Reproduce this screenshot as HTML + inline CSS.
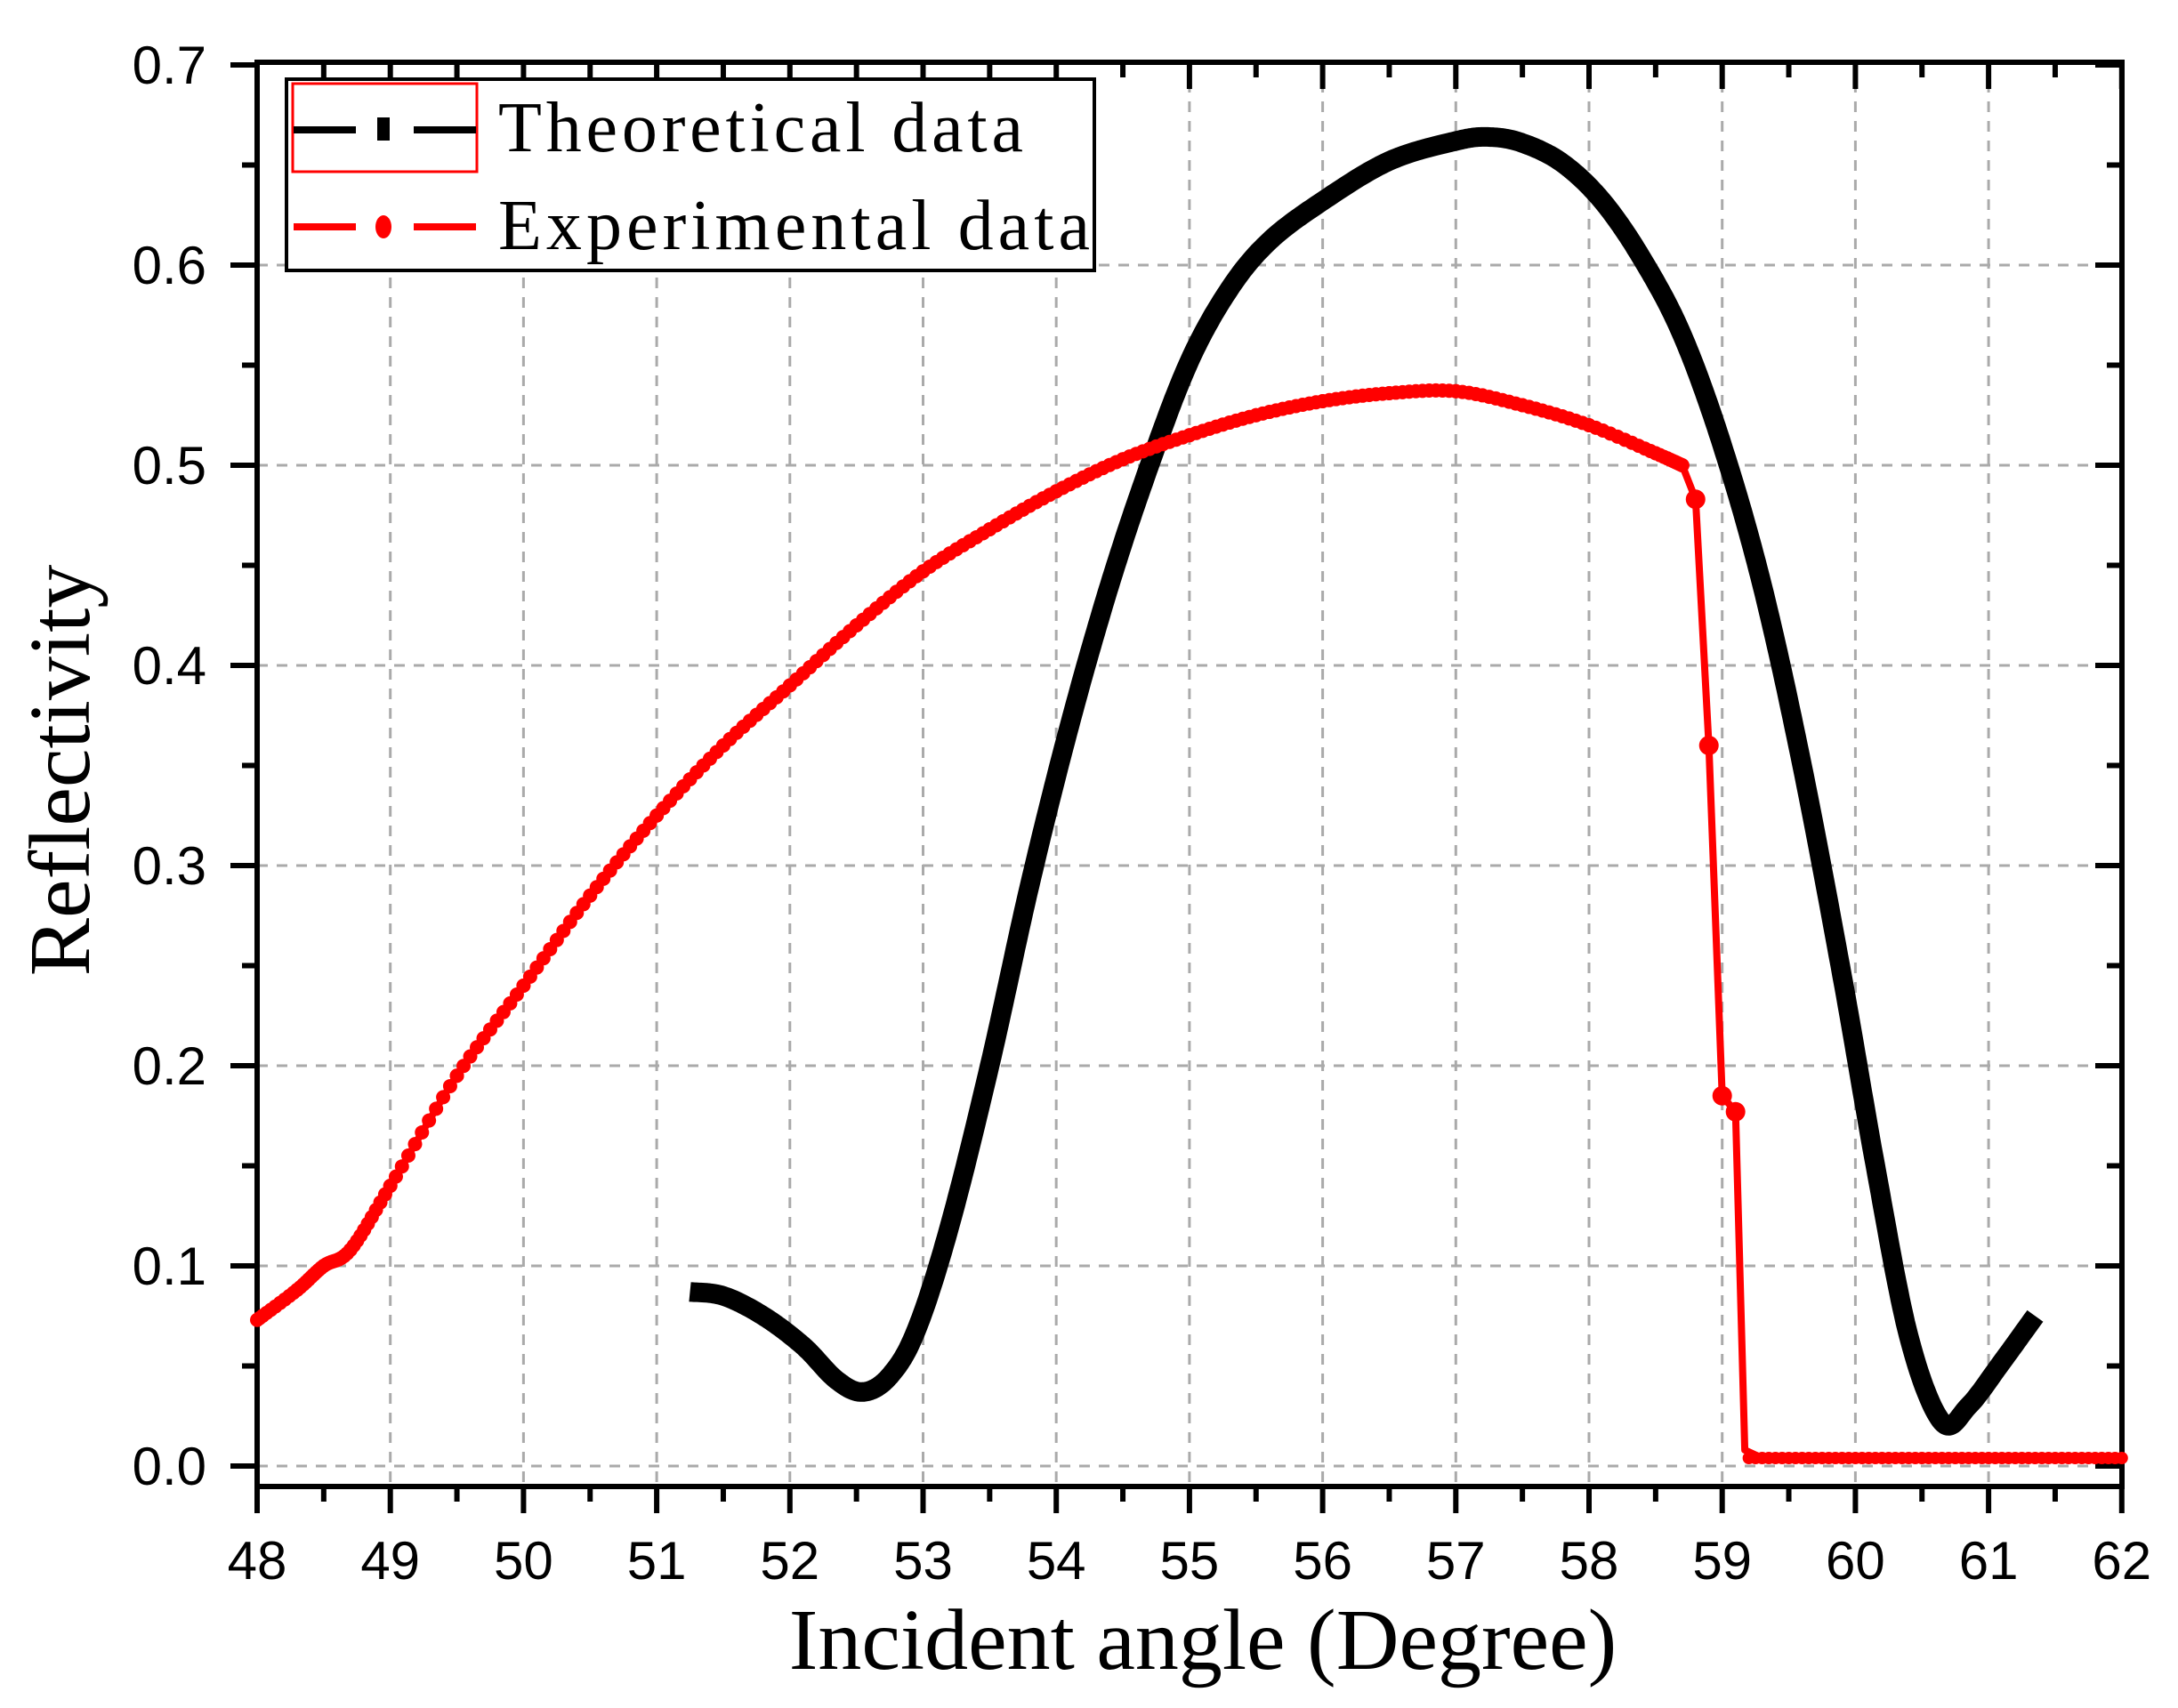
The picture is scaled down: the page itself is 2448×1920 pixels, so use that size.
<!DOCTYPE html>
<html><head><style>html,body{margin:0;padding:0;background:#fff}svg{display:block}</style></head>
<body>
<svg id="s" xmlns="http://www.w3.org/2000/svg" width="2448" height="1920" viewBox="0 0 2448 1920">
<rect width="2448" height="1920" fill="#fff"/>
<g id="grid" stroke="#aaa" stroke-width="3" stroke-dasharray="12,10" fill="none"></g>
<g id="ticks" stroke="#000" stroke-width="6" fill="none"></g>
<rect x="289" y="70" width="2096" height="1601" fill="none" stroke="#000" stroke-width="6"/>
<g id="labels" font-family="Liberation Sans, sans-serif" font-size="60" fill="#000"></g>
<path id="theo" fill="none" stroke="#000" stroke-width="22" stroke-linejoin="round"/>
<path id="exp" fill="none" stroke="#f00" stroke-width="8" stroke-linejoin="round"/>
<g id="dots" fill="#f00"></g>
<text x="1352" y="1876" font-family="Liberation Serif, serif" font-size="98" text-anchor="middle">Incident angle (Degree)</text>
<text transform="translate(100,866) rotate(-90)" font-family="Liberation Serif, serif" font-size="98" text-anchor="middle">Reflectivity</text>
<rect x="322" y="89" width="908" height="215" fill="#fff" stroke="#000" stroke-width="4"/>
<rect x="329" y="94" width="207" height="99" fill="none" stroke="#f00" stroke-width="3"/>
<line x1="330" y1="146" x2="400" y2="146" stroke="#000" stroke-width="8"/>
<rect x="424" y="132" width="14" height="26" fill="#000"/>
<line x1="465" y1="146" x2="535" y2="146" stroke="#000" stroke-width="8"/>
<line x1="330" y1="255" x2="400" y2="255" stroke="#f00" stroke-width="8"/>
<ellipse cx="431" cy="255" rx="9" ry="13" fill="#f00"/>
<line x1="465" y1="255" x2="535" y2="255" stroke="#f00" stroke-width="8"/>
<text x="560" y="170" font-family="Liberation Serif, serif" font-size="80" textLength="590">Theoretical data</text>
<text x="560" y="280" font-family="Liberation Serif, serif" font-size="80" textLength="665">Experimental data</text>
</svg>
<script>
const X=a=>289+(a-48)*149.7, Y=v=>1648-v*2250;
const ns="http://www.w3.org/2000/svg";
function el(p,t,a,txt){const e=document.createElementNS(ns,t);for(const k in a)e.setAttribute(k,a[k]);if(txt!=null)e.textContent=txt;document.getElementById(p).appendChild(e);}
for(let a=49;a<62;a++)el("grid","line",{x1:X(a),y1:70,x2:X(a),y2:1671});
for(let i=0;i<=6;i++)el("grid","line",{x1:289,y1:Y(i/10),x2:2385,y2:Y(i/10)});
for(let a=48;a<=62;a+=0.5){const maj=a%1==0;
 el("ticks","line",{x1:X(a),y1:1671,x2:X(a),y2:1671+(maj?30:17)});
 el("ticks","line",{x1:X(a),y1:70,x2:X(a),y2:70+(maj?30:17)});
 if(maj)el("labels","text",{x:X(a),y:1775,"text-anchor":"middle"},String(a));}
for(let v=0;v<=0.701;v+=0.05){const maj=Math.round(v*20)%2==0;const y=Y(v);
 el("ticks","line",{x1:289,y1:y,x2:289-(maj?30:17),y2:y});
 el("ticks","line",{x1:2385,y1:y,x2:2385-(maj?30:17),y2:y});
 if(maj)el("labels","text",{x:232,y:y+21,"text-anchor":"end"},v.toFixed(1));}
function spline(pts,step){const out=[];for(let i=0;i<pts.length-1;i++){const p0=pts[Math.max(0,i-1)],p1=pts[i],p2=pts[i+1],p3=pts[Math.min(pts.length-1,i+2)];
 for(let t=0;t<1;t+=step){const t2=t*t,t3=t2*t;const f=(a,b,c,d)=>0.5*(2*b+(-a+c)*t+(2*a-5*b+4*c-d)*t2+(-a+3*b-3*c+d)*t3);
 out.push([f(p0[0],p1[0],p2[0],p3[0]),f(p0[1],p1[1],p2[1],p3[1])]);}}out.push(pts[pts.length-1]);return out;}
const th=[[51.25,0.087],[51.5,0.085],[51.8,0.075],[52.1,0.06],[52.35,0.043],[52.55,0.037],[52.75,0.045],[52.95,0.068],[53.2,0.12],[53.5,0.2],[53.8,0.29],[54.1,0.37],[54.4,0.44],[54.7,0.5],[55,0.552],[55.3,0.588],[55.6,0.612],[56,0.632],[56.5,0.652],[57,0.662],[57.25,0.664],[57.5,0.661],[57.8,0.651],[58.1,0.632],[58.4,0.603],[58.7,0.565],[59,0.51],[59.3,0.44],[59.6,0.35],[59.9,0.245],[60.15,0.15],[60.4,0.065],[60.65,0.022],[60.85,0.03],[61.1,0.052],[61.35,0.075]];
document.getElementById("theo").setAttribute("d","M"+spline(th,0.05).map(p=>X(p[0]).toFixed(1)+","+Y(p[1]).toFixed(1)).join("L"));
const ex1=[[48,0.073],[48.3,0.088],[48.5,0.1],[48.7,0.108],[49,0.14],[49.5,0.195],[50,0.24],[50.5,0.285],[51,0.325],[51.5,0.36],[52,0.39],[52.5,0.42],[53,0.447],[53.5,0.468],[54,0.487],[54.5,0.503],[55,0.515],[55.5,0.525],[56,0.532],[56.5,0.536],[57,0.537],[57.5,0.53],[58,0.52],[58.5,0.506],[58.7,0.5]];
const s1=spline(ex1,0.1);
const tail=[[58.8,0.483],[58.9,0.36],[59,0.185],[59.1,0.177],[59.17,0.008],[59.3,0.004],[62,0.003]];
const all=s1.concat(tail);
document.getElementById("exp").setAttribute("d","M"+all.map(p=>X(p[0]).toFixed(1)+","+Y(p[1]).toFixed(1)).join("L"));
s1.forEach(p=>el("dots","circle",{cx:X(p[0]),cy:Y(p[1]),r:8}));
[[58.8,0.483],[58.9,0.36],[59,0.185],[59.1,0.177]].forEach(p=>el("dots","circle",{cx:X(p[0]),cy:Y(p[1]),r:11}));
for(let a=59.2;a<=62;a+=0.05)el("dots","circle",{cx:X(a),cy:Y(0.004),r:7});
</script>
</body></html>
